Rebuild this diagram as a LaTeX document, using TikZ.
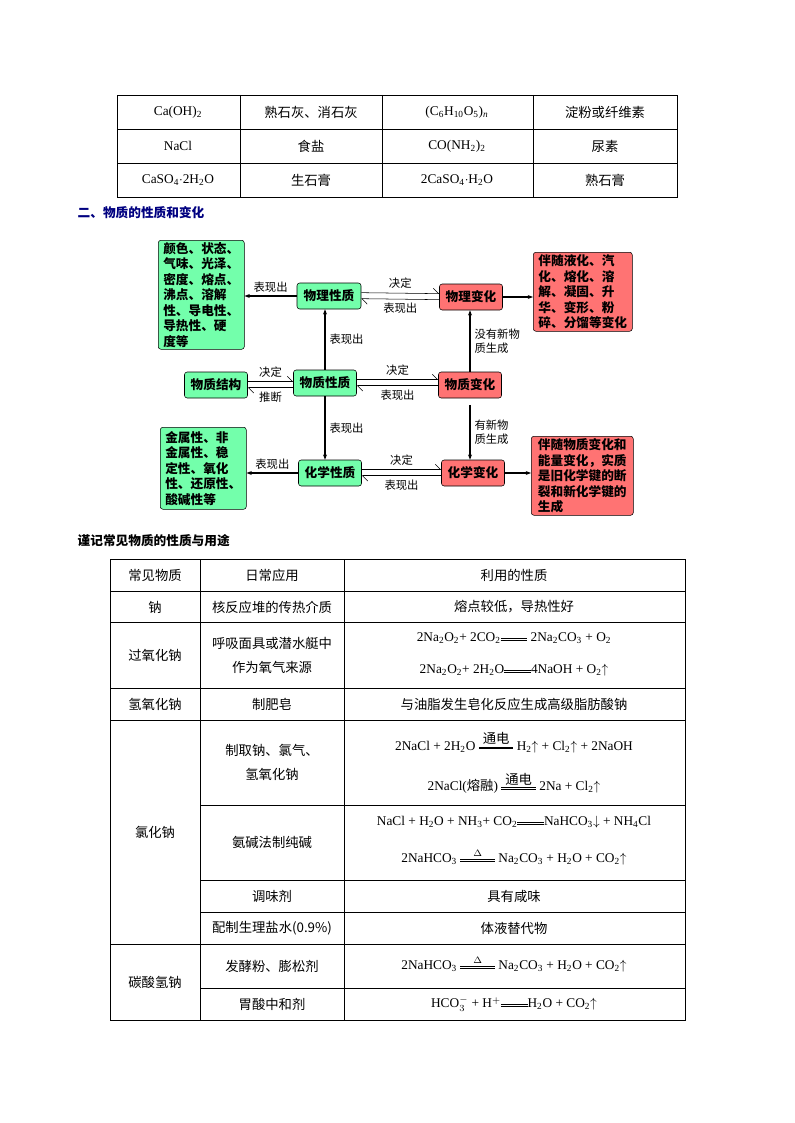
\documentclass[tikz,border=0pt]{standalone}
\usepackage{amsmath}
\usepackage{fontspec}
\setmainfont{Noto Sans CJK SC}
\newfontfamily\tm{Liberation Serif}
\usetikzlibrary{arrows.meta}
\newcommand\sbs[1]{\textsubscript{#1}}
\newcommand\dbl[2][2em]{\ensuremath{\mathrel{\overset{\text{\fontsize{7}{7}\selectfont #2}}{\rlap{\rule[0.5ex]{#1}{0.4pt}}\rule[0.2ex]{#1}{0.4pt}}}}}
\begin{document}
\begin{tikzpicture}[x=0.75pt,y=-0.75pt,
 tx/.style={font=\fontsize{10}{12}\selectfont},
 gb/.style={draw,rounded corners=2pt,fill=green!60!cyan!55,font=\fontsize{9.5}{11.6}\selectfont\bfseries,inner sep=1.5pt},
 rb/.style={draw,rounded corners=2pt,fill=red!55!white,font=\fontsize{9.5}{11.6}\selectfont\bfseries,inner sep=1.5pt},
 lb/.style={font=\fontsize{8.5}{10.5}\selectfont,inner sep=1pt},
 ar/.style={-{Stealth[length=4pt]},thick},
 hp/.style={-{Straight Barb[left,length=4pt]}}]
\useasboundingbox (0,0) rectangle (794,1123);
% table 1
\draw[thin] (117,95) rectangle (677,197);
\foreach \y in {129,163} \draw[thin] (117,\y)--(677,\y);
\foreach \x in {240,382,533} \draw[thin] (\x,95)--(\x,197);
\node[tx] (a1) at (178,112) {\tm Ca(OH)\sbs2};
\node[tx] (a2) at (311,112) {熟石灰、消石灰};
\node[tx] (a3) at (457,112) {\tm (C\sbs6H\sbs{10}O\sbs5)\sbs{\itshape n}};
\node[tx] (a4) at (605,112) {淀粉或纤维素};
\node[tx] (b1) at (178,146) {\tm NaCl};
\node[tx] (b2) at (311,146) {食盐};
\node[tx] (b3) at (457,146) {\tm CO(NH\sbs2)\sbs2};
\node[tx] (b4) at (605,146) {尿素};
\node[tx] (c1) at (178,180) {\tm CaSO\sbs4$\cdot$2H\sbs2O};
\node[tx] (c2) at (311,180) {生石膏};
\node[tx] (c3) at (457,180) {\tm 2CaSO\sbs4$\cdot$H\sbs2O};
\node[tx] (c4) at (605,180) {熟石膏};
\node[anchor=west,font=\fontsize{9.5}{11}\selectfont\bfseries,text=blue!50!black] (h1) at (73,213) {二、物质的性质和变化};
% diagram
\node[gb,minimum width=0.75*86pt,minimum height=0.75*109pt,align=left,anchor=north west] (L1) at (158,240) {颜色、状态、\\气味、光泽、\\密度、熔点、\\沸点、溶解\\性、导电性、\\导热性、硬\\度等};
\node[gb,minimum width=0.75*64pt,minimum height=0.75*26pt] (wl) at (329,296) {物理性质};
\node[rb,minimum width=0.75*63pt,minimum height=0.75*26pt] (wb) at (471,297) {物理变化};
\node[rb,minimum width=0.75*99pt,minimum height=0.75*79pt,align=left,anchor=north west] (R1) at (533,252) {伴随液化、汽\\化、熔化、溶\\解、凝固、升\\华、变形、粉\\碎、分馏等变化};
\node[gb,minimum width=0.75*63pt,minimum height=0.75*26pt] (jg) at (216,385) {物质结构};
\node[gb,minimum width=0.75*63pt,minimum height=0.75*26pt] (xz) at (325,383) {物质性质};
\node[rb,minimum width=0.75*63pt,minimum height=0.75*26pt] (bh) at (470,385) {物质变化};
\node[gb,minimum width=0.75*86pt,minimum height=0.75*82pt,align=left,anchor=north west] (L2) at (160,427) {金属性、非\\金属性、稳\\定性、氧化\\性、还原性、\\酸碱性等};
\node[gb,minimum width=0.75*63pt,minimum height=0.75*26pt] (hx) at (330,473) {化学性质};
\node[rb,minimum width=0.75*63pt,minimum height=0.75*26pt] (hb) at (473,473) {化学变化};
\node[rb,minimum width=0.75*102pt,minimum height=0.75*79pt,align=left,anchor=north west] (R2) at (531,436) {伴随物质变化和\\能量变化，实质\\是旧化学键的断\\裂和新化学键的\\生成};
% connectors
\draw[ar] (wl.west) -- node[lb,above=1pt]{表现出} (L1.east|-wl.west);
\draw[hp] ([yshift=2.5]wl.east) -- node[lb,above=2pt]{决定} ([yshift=2.5]wb.west);
\draw[hp] ([yshift=-2]wb.west) -- node[lb,below=2pt]{表现出} ([yshift=-2]wl.east);
\draw[ar] (wb.east) -- (R1.west|-wb.east);
\draw[ar] (xz.north) -- node[lb,right=2pt]{表现出} (wl.south-|xz.north);
\draw[hp] ([yshift=2.5]jg.east) -- node[lb,above=2pt]{决定} ([yshift=2.5]xz.west|-jg.east);
\draw[hp] ([yshift=-2]xz.west|-jg.east) -- node[lb,below=2pt]{推断} ([yshift=-2]jg.east);
\draw[hp] ([yshift=2.5]xz.east) -- node[lb,above=2pt]{决定} ([yshift=2.5]bh.west|-xz.east);
\draw[hp] ([yshift=-2]bh.west|-xz.east) -- node[lb,below=2pt]{表现出} ([yshift=-2]xz.east);
\draw[ar] (bh.north) -- node[lb,right=2pt,align=left]{没有新物\\质生成} (wb.south-|bh.north);
\draw[ar] ([yshift=-5]bh.south) -- node[lb,right=2pt,align=left]{有新物\\质生成} (hb.north-|bh.south);
\draw[ar] (xz.south) -- node[lb,right=2pt]{表现出} (hx.north-|xz.south);
\draw[ar] (hx.west) -- node[lb,above=1pt]{表现出} (L2.east|-hx.west);
\draw[hp] ([yshift=2.5]hx.east) -- node[lb,above=2pt]{决定} ([yshift=2.5]hb.west);
\draw[hp] ([yshift=-2]hb.west) -- node[lb,below=2pt]{表现出} ([yshift=-2]hx.east);
\draw[ar] (hb.east) -- (R2.west|-hb.east);
\node[anchor=west,font=\fontsize{9.5}{11}\selectfont\bfseries] (h2) at (73,541) {谨记常见物质的性质与用途};
% table 2
\draw[thin] (110,559) rectangle (685,1020);
\foreach \y in {591,622,688,720,944} \draw[thin] (110,\y)--(685,\y);
\foreach \y in {805,880,912,988} \draw[thin] (200,\y)--(685,\y);
\foreach \x in {200,344} \draw[thin] (\x,559)--(\x,1020);
\node[tx] (t1) at (155,575) {常见物质};
\node[tx] (t2) at (272,575) {日常应用};
\node[tx] (t3) at (514,575) {利用的性质};
\node[tx] (n1) at (155,607) {钠};
\node[tx] (n2) at (272,607) {核反应堆的传热介质};
\node[tx] (n3) at (514,607) {熔点较低，导热性好};
\node[tx] (p1) at (155,655) {过氧化钠};
\node[tx,align=center] (p2) at (272,655) {呼吸面具或潜水艇中\\[6pt]作为氧气来源};
\node[tx] (p3) at (514,638) {\tm 2Na\sbs2O\sbs2+ 2CO\sbs2\dbl{} 2Na\sbs2CO\sbs3 + O\sbs2};
\node[tx] (p4) at (514,670) {\tm 2Na\sbs2O\sbs2+ 2H\sbs2O\dbl{}4NaOH + O\sbs2$\uparrow$};
\node[tx] (o1) at (155,704) {氢氧化钠};
\node[tx] (o2) at (272,704) {制肥皂};
\node[tx] (o3) at (514,704) {与油脂发生皂化反应生成高级脂肪酸钠};
\node[tx] (c1) at (155,832) {氯化钠};
\node[tx,align=center] (c2) at (272,762) {制取钠、氯气、\\[6pt]氢氧化钠};
\node[tx] (c3) at (514,742) {\tm 2NaCl + 2H\sbs2O \dbl[2.6em]{\normalsize\rmfamily 通电} H\sbs2$\uparrow$ + Cl\sbs2$\uparrow$ + 2NaOH};
\node[tx] (c4) at (514,783) {\tm 2NaCl(\rmfamily 熔融\tm) \dbl[2.6em]{\normalsize\rmfamily 通电} 2Na + Cl\sbs2$\uparrow$};
\node[tx] (c5) at (272,842) {氨碱法制纯碱};
\node[tx] (c6) at (514,822) {\tm NaCl + H\sbs2O + NH\sbs3+ CO\sbs2\dbl{}NaHCO\sbs3$\downarrow$ + NH\sbs4Cl};
\node[tx] (c7) at (514,857) {\tm 2NaHCO\sbs3 \dbl[2.6em]{$\Delta$} Na\sbs2CO\sbs3 + H\sbs2O + CO\sbs2$\uparrow$};
\node[tx] (c8) at (272,896) {调味剂};
\node[tx] (c9) at (514,896) {具有咸味};
\node[tx] (c10) at (272,928) {配制生理盐水(0.9\%)};
\node[tx] (c11) at (514,928) {体液替代物};
\node[tx] (s1) at (155,982) {碳酸氢钠};
\node[tx] (s2) at (272,966) {发酵粉、膨松剂};
\node[tx] (s3) at (514,964) {\tm 2NaHCO\sbs3 \dbl[2.6em]{$\Delta$} Na\sbs2CO\sbs3 + H\sbs2O + CO\sbs2$\uparrow$};
\node[tx] (s4) at (272,1004) {胃酸中和剂};
\node[tx] (s5) at (514,1004) {\tm HCO$_3^-$ + H$^+$\dbl{}H\sbs2O + CO\sbs2$\uparrow$};
\end{tikzpicture}
\end{document}
